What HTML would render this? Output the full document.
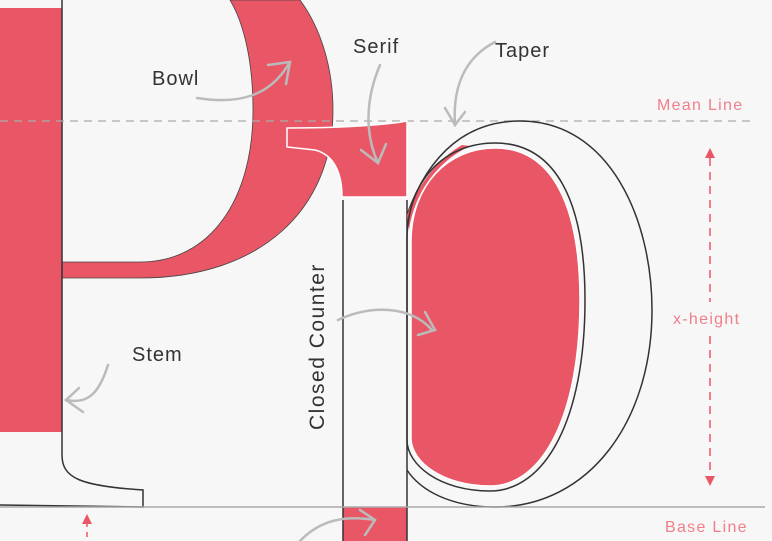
<!DOCTYPE html>
<html><head><meta charset="utf-8"><style>
html,body{margin:0;padding:0;background:#f7f7f7;}
svg{display:block;}
text{font-family:"Liberation Sans",sans-serif;}
</style></head><body>
<svg width="772" height="541" viewBox="0 0 772 541" xmlns="http://www.w3.org/2000/svg">
<rect width="772" height="541" fill="#f7f7f7"/>
<rect x="0" y="8" width="62" height="424" fill="#e95766"/>
<path d="M230,0 L300,0 C322,30 333,70 333,110 C333,210 260,278 140,278 L62,278 L62,262 L140,262 C210,262 253,200 253,110 C253,65 245,25 230,0 Z" fill="#e95766" stroke="#444" stroke-width="0.8"/>
<path d="M62,0 L62,455 C62,478 80,486 143,490 L143,507 L0,505" fill="none" stroke="#333" stroke-width="1.5"/>
<line x1="0" y1="121" x2="752" y2="121" stroke="#aaa" stroke-width="1.2" stroke-dasharray="8,6"/>
<path d="M287,128 C330,128 380,126 407,121 L407,197 L342,197 C342,175 335,155 315,150 L287,147 Z" fill="#e95766" stroke="#fff" stroke-width="1.5"/>
<rect x="343" y="507" width="64" height="34" fill="#e95766"/>
<path d="M343,200 L343,541 M407,200 L407,541" stroke="#333" stroke-width="1.5" fill="none"/>
<path d="M407,215 C430,150 470,121 520,121 C610,121 652,220 652,310 C652,420 590,507 495,507 C450,507 420,490 407,470" fill="none" stroke="#333" stroke-width="1.5"/>
<path d="M407,215 C420,180 440,158 462,145 L470,146 C440,160 415,190 409,230 Z" fill="#e95766"/>
<path d="M407,440 L407,240 C407,180 445,143 495,143 C555,143 585,200 585,300 C585,420 545,491 490,491 C440,491 407,465 407,440" fill="none" stroke="#333" stroke-width="1.5"/>
<path d="M411,438 L411,242 C411,185 448,148 495,148 C552,148 580,205 580,300 C580,415 543,486 490,486 C443,486 411,462 411,438 Z" fill="#e95766" stroke="#fff" stroke-width="1.5"/>
<line x1="0" y1="507" x2="765" y2="507" stroke="#aaa" stroke-width="1.5"/>
<g fill="none" stroke="#bbb" stroke-width="2.5" stroke-linecap="round">
<path d="M197,98 C240,105 270,95 288,65"/><path d="M268,65 L290,62 L286,84"/>
<path d="M380,65 C365,100 365,135 378,163"/><path d="M361,150 L378,163 L386,144"/>
<path d="M495,42 C470,55 452,80 455,125"/><path d="M445,108 L455,125 L465,112"/>
<path d="M108,365 C100,390 90,405 66,400"/><path d="M79,388 L66,400 L83,412"/>
<path d="M338,320 C370,305 410,305 432,330"/><path d="M425,312 L435,330 L418,335"/>
<path d="M300,541 C320,520 345,515 375,520"/><path d="M360,510 L375,520 L365,535"/>
</g>
<g stroke="#e95766" stroke-width="1.5" fill="#e95766">
<line x1="710" y1="158" x2="710" y2="302" stroke-dasharray="8,6"/>
<line x1="710" y1="336" x2="710" y2="476" stroke-dasharray="8,6"/>
<path d="M705,158 L710,148 L715,158 Z" stroke="none"/>
<path d="M705,476 L710,486 L715,476 Z" stroke="none"/>
<line x1="87" y1="522" x2="87" y2="541" stroke-dasharray="5,5"/>
<path d="M82,524 L87,514 L92,524 Z" stroke="none"/>
</g>
<g fill="#333" font-size="20" letter-spacing="1">
<text x="152" y="85">Bowl</text>
<text x="353" y="53">Serif</text>
<text x="495" y="57">Taper</text>
<text x="132" y="361">Stem</text>
<text x="510" y="556">Descender</text>
<text transform="translate(324,430) rotate(-90)" font-size="21" letter-spacing="1.5">Closed Counter</text>
</g>
<g fill="#f07f8a" font-size="16" letter-spacing="1.3">
<text x="657" y="110">Mean Line</text>
<text x="673" y="324">x-height</text>
<text x="665" y="532">Base Line</text>
</g>
</svg>
</body></html>
